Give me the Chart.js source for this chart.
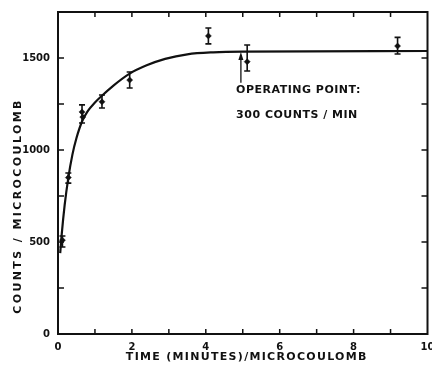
<!DOCTYPE html>
<html lang="en">
<head>
  <meta charset="UTF-8">
  <title>Counts per Microcoulomb vs. Time</title>
  <script src="https://cdn.jsdelivr.net/npm/chart.js"></script>
  <style>
    html, body { margin: 0; padding: 0; background: #fff; }
    #wrap { width: 432px; height: 368px; }
  </style>
</head>
<body>
  <div id="wrap">
    <canvas id="countsChart" width="432" height="368"></canvas>
  </div>

  <script>
    // measured points: time (min)/microcoulomb vs counts/microcoulomb
    const ptX  = [0.12, 0.28, 0.65, 0.67, 1.19, 1.94, 4.07, 5.12, 9.19];
    const ptY  = [510, 850, 1207, 1179, 1262, 1380, 1620, 1480, 1565];
    // error bar limits (null = no bar drawn)
    const errLo = [473, 820, 1147, null, 1228, 1337, 1577, 1429, 1522];
    const errHi = [533, 875, 1245, null, 1299, 1424, 1663, 1571, 1612];

    // smooth saturation curve through the data
    const curveX = [0.06, 0.1, 0.18, 0.28, 0.39, 0.5, 0.65, 0.8, 1.0, 1.19, 1.5, 1.94, 2.4, 2.9, 3.5, 4.2, 5, 10];
    const curveY = [440, 540, 700, 850, 975, 1065, 1155, 1210, 1258, 1295, 1350, 1415, 1460, 1495, 1520, 1531, 1535, 1538];

    // operating point marker
    const arrowX = 4.95;
    const arrowFrom = 1365;
    const arrowTo = 1532;
    const noteLines = ['OPERATING POINT:', '300 COUNTS / MIN'];
    const noteX = 4.82;
    const noteY = [1326, 1190];

    const xTitle = 'TIME (MINUTES)/MICROCOULOMB';
    const yTitle = 'COUNTS / MICROCOULOMB';

    const ink = '#111';
    const labelFont = 'bold 11px "DejaVu Sans", sans-serif';

    // box, inward ticks, error bars, arrow and text
    const decorations = {
      id: 'decorations',
      afterDatasetsDraw(chart) {
        const ctx = chart.ctx;
        const xs = chart.scales.x, ys = chart.scales.y;
        const a = chart.chartArea;
        ctx.save();
        ctx.strokeStyle = ink;
        ctx.fillStyle = ink;

        // frame
        ctx.lineWidth = 2;
        ctx.strokeRect(a.left, a.top, a.right - a.left, a.bottom - a.top);

        // inward ticks on all four sides
        ctx.lineWidth = 1.5;
        xs.ticks.forEach(t => {
          if (t.value <= 0 || t.value >= 10) return;
          const px = xs.getPixelForValue(t.value);
          ctx.beginPath();
          ctx.moveTo(px, a.bottom); ctx.lineTo(px, a.bottom - 5);
          ctx.moveTo(px, a.top); ctx.lineTo(px, a.top + 5);
          ctx.stroke();
        });
        ys.ticks.forEach(t => {
          if (t.value <= 0 || t.value >= 1750) return;
          const py = ys.getPixelForValue(t.value);
          ctx.beginPath();
          ctx.moveTo(a.left, py); ctx.lineTo(a.left + 6, py);
          ctx.moveTo(a.right, py); ctx.lineTo(a.right - 6, py);
          ctx.stroke();
        });

        // error bars
        ctx.lineWidth = 1.6;
        ptX.forEach((x, i) => {
          if (errLo[i] == null) return;
          const px = xs.getPixelForValue(x);
          const lo = ys.getPixelForValue(errLo[i]);
          const hi = ys.getPixelForValue(errHi[i]);
          ctx.beginPath();
          ctx.moveTo(px, lo); ctx.lineTo(px, hi);
          ctx.moveTo(px - 3, lo); ctx.lineTo(px + 3, lo);
          ctx.moveTo(px - 3, hi); ctx.lineTo(px + 3, hi);
          ctx.stroke();
        });

        // arrow to the operating point
        const ax = xs.getPixelForValue(arrowX);
        const ay0 = ys.getPixelForValue(arrowFrom);
        const ay1 = ys.getPixelForValue(arrowTo);
        ctx.lineWidth = 1.3;
        ctx.beginPath();
        ctx.moveTo(ax, ay0); ctx.lineTo(ax, ay1 + 3);
        ctx.stroke();
        ctx.beginPath();
        ctx.moveTo(ax, ay1);
        ctx.lineTo(ax - 2.5, ay1 + 8);
        ctx.lineTo(ax + 2.5, ay1 + 8);
        ctx.closePath();
        ctx.fill();

        // annotation text
        ctx.font = labelFont;
        ctx.textAlign = 'left';
        ctx.textBaseline = 'middle';
        ctx.letterSpacing = '0.5px';
        noteLines.forEach((s, i) => {
          ctx.fillText(s, xs.getPixelForValue(noteX), ys.getPixelForValue(noteY[i]));
        });

        // axis titles
        ctx.letterSpacing = '1.3px';
        ctx.textAlign = 'center';
        ctx.fillText(xTitle, (a.left + a.right) / 2 + 4, 357);
        ctx.save();
        ctx.translate(18, 206);
        ctx.rotate(-Math.PI / 2);
        ctx.letterSpacing = '2.4px';
        ctx.fillText(yTitle, 0, 0);
        ctx.restore();
        ctx.restore();
      }
    };

    new Chart(document.getElementById('countsChart'), {
      type: 'scatter',
      data: {
        datasets: [
          {
            type: 'line',
            data: curveX.map((x, i) => ({ x: x, y: curveY[i] })),
            borderColor: ink,
            borderWidth: 2.2,
            pointRadius: 0,
            cubicInterpolationMode: 'monotone',
            fill: false
          },
          {
            data: ptX.map((x, i) => ({ x: x, y: ptY[i] })),
            backgroundColor: ink,
            borderColor: ink,
            pointStyle: 'rectRot',
            pointRadius: 3,
            borderWidth: 0.5
          }
        ]
      },
      options: {
        responsive: false,
        animation: false,
        layout: { padding: { top: 12, right: 3, left: 0, bottom: 0 } },
        plugins: {
          legend: { display: false },
          tooltip: { enabled: false }
        },
        scales: {
          x: {
            type: 'linear',
            min: 0,
            max: 10,
            afterFit(scale) {
              scale.height = 34;
              scale.paddingLeft = 0;
              scale.paddingRight = 0;
            },
            border: { display: false },
            grid: { display: false, drawTicks: false },
            ticks: {
              stepSize: 1,
              padding: 7,
              color: ink,
              font: { family: '"DejaVu Sans", sans-serif', size: 10, weight: 'bold' },
              maxRotation: 0,
              autoSkip: false,
              callback: v => (v % 2 === 0 ? String(v) : '')
            }
          },
          y: {
            type: 'linear',
            min: 0,
            max: 1750,
            afterFit(scale) {
              scale.width = 58;
              scale.paddingTop = 0;
              scale.paddingBottom = 0;
            },
            border: { display: false },
            grid: { display: false, drawTicks: false },
            ticks: {
              stepSize: 250,
              padding: 8,
              color: ink,
              font: { family: '"DejaVu Sans", sans-serif', size: 10, weight: 'bold' },
              autoSkip: false,
              callback: v => (v % 500 === 0 ? String(v) : '')
            }
          }
        }
      },
      plugins: [decorations]
    });
  </script>
</body>
</html>
